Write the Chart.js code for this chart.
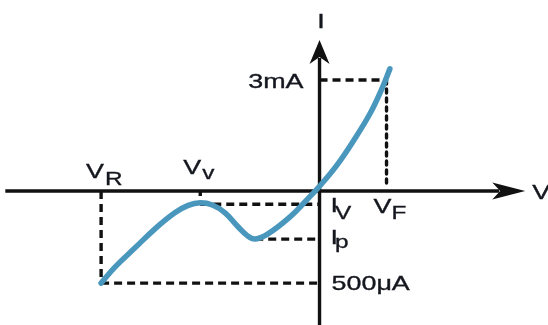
<!DOCTYPE html>
<html>
<head>
<meta charset="utf-8">
<title>I-V curve</title>
<script src="https://cdn.jsdelivr.net/npm/chart.js@4.4.0/dist/chart.umd.min.js"></script>
<style>
  html, body { margin: 0; padding: 0; background: #ffffff; }
  #wrap { width: 548px; height: 325px; }
</style>
</head>
<body>
<div id="wrap"><canvas id="myChart" width="548" height="325"></canvas></div>
<script>
// Curve points (V in arbitrary units, I in mA-like units)
const curveV = [-3.26, -3.05, -2.75, -2.46, -2.16, -1.96, -1.78, -1.60, -1.41, -1.22, -1.07, -0.96, -0.77, -0.44, -0.19, 0.01, 0.26, 0.50, 0.75, 0.93, 1.05];
const curveI = [-2.49, -2.05, -1.53, -1.03, -0.59, -0.39, -0.32, -0.38, -0.59, -0.96, -1.22, -1.30, -1.16, -0.70, -0.24, 0.15, 0.70, 1.34, 2.08, 2.76, 3.30];

// Marked voltages on the V axis
const voltLabels = ['V|R', 'V|v', 'V|F'];
const voltValues = [-3.26, -1.78, 1.0];
const valleyV = -0.96;

// Marked currents on the I axis
const currLabels = ['3mA', 'I|V', 'I|p', '500\u03bcA'];
const currValues = [3.0, -0.36, -1.30, -2.49];

// Visible span of the two axes
const axisV = [-4.69, 3.07];
const axisI = [-3.65, 4.08];

const ctx = document.getElementById('myChart').getContext('2d');
const inkColor = '#15171f';
const curveColor = '#4a97be';
const fontFamily = '"Liberation Sans", Arial, sans-serif';
const stretch = 1.28; // the lettering in the picture is drawn wide

// Helper to build a two point guide line
function guide(x1, y1, x2, y2, dash, cap) {
  return {
    data: [{ x: x1, y: y1 }, { x: x2, y: y2 }],
    borderColor: '#111111',
    borderWidth: 3.4,
    borderDash: dash,
    borderCapStyle: cap || 'butt',
    pointRadius: 0,
    tension: 0
  };
}

const vR = voltValues[0], vV = voltValues[1], vF = voltValues[2];
const i3 = currValues[0], iV = currValues[1], iP = currValues[2], iB = currValues[3];

const datasets = [
  {
    data: curveV.map((v, k) => ({ x: v, y: curveI[k] })),
    borderColor: curveColor,
    borderWidth: 5.5,
    borderCapStyle: 'round',
    borderJoinStyle: 'round',
    pointRadius: 0,
    tension: 0.4
  },
  guide(vR, 0, vR, iB, [8, 5]),          // V_R drop
  guide(vR, iB, 0, iB, [8, 5]),          // 500uA level
  guide(vV, iV, 0, iV, [8, 5]),          // I_V level
  guide(valleyV, iP, 0, iP, [8, 5]),     // I_p level
  guide(0, i3, vF, i3, [8, 5]),          // 3mA level
  guide(vF, i3, vF, 0.15, [4, 5], 'round'), // V_F drop
  guide(vV, 0, vV, curveI[6], [5, 20])   // small tick at V_v
];

// Draw stretched text, with an optional subscript after "|"
function drawLabel(c, label, x, y, opts) {
  const parts = label.split('|');
  c.save();
  c.fillStyle = inkColor;
  c.strokeStyle = inkColor;
  c.lineWidth = 0.35;
  c.textBaseline = 'alphabetic';
  c.font = opts.size + 'px ' + fontFamily;
  let w = c.measureText(parts[0]).width * stretch;
  let left = x;
  if (opts.align === 'right') left = x - w;
  if (opts.align === 'center') left = x - w / 2;
  c.translate(left, y);
  c.scale(stretch, 1);
  c.fillText(parts[0], 0, 0);
  c.strokeText(parts[0], 0, 0);
  if (parts[1]) {
    c.font = opts.subSize + 'px ' + fontFamily;
    const sx = (w + (opts.subDx || 0)) / stretch;
    c.fillText(parts[1], sx, opts.subDy);
    c.strokeText(parts[1], sx, opts.subDy);
  }
  c.restore();
}

// Plugin: axes with arrows under the data, labels on top
const axesPlugin = {
  id: 'axes',
  beforeDatasetsDraw(chart) {
    const c = chart.ctx;
    const xs = chart.scales.x, ys = chart.scales.y;
    const x0 = xs.getPixelForValue(0), y0 = ys.getPixelForValue(0);
    const xa = xs.getPixelForValue(axisV[0]), xb = xs.getPixelForValue(axisV[1]);
    const ya = ys.getPixelForValue(axisI[0]), yb = ys.getPixelForValue(axisI[1]);
    c.save();
    c.strokeStyle = '#111111';
    c.fillStyle = '#111111';
    c.lineWidth = 3.4;
    c.beginPath();
    c.moveTo(xa, y0); c.lineTo(xb - 26, y0);
    c.moveTo(x0, ya); c.lineTo(x0, yb + 18);
    c.stroke();
    // arrow on V axis
    c.beginPath();
    c.moveTo(xb, y0);
    c.lineTo(xb - 33, y0 - 8.5);
    c.lineTo(xb - 25, y0);
    c.lineTo(xb - 33, y0 + 8.5);
    c.closePath();
    c.fill();
    // arrow on I axis
    c.beginPath();
    c.moveTo(x0, yb);
    c.lineTo(x0 - 10, yb + 24);
    c.lineTo(x0, yb + 17);
    c.lineTo(x0 + 10, yb + 24);
    c.closePath();
    c.fill();
    c.restore();
  },
  afterDatasetsDraw(chart) {
    const c = chart.ctx;
    const xs = chart.scales.x, ys = chart.scales.y;
    const x0 = xs.getPixelForValue(0), y0 = ys.getPixelForValue(0);
    const big = 21, small = 19;
    drawLabel(c, 'I', x0 + 1.5, ys.getPixelForValue(axisI[1]) - 12, { size: big, align: 'center' });
    drawLabel(c, 'V', xs.getPixelForValue(axisV[1]) + 7, y0 + 8, { size: big });
    drawLabel(c, voltLabels[0], xs.getPixelForValue(vR) - 15, y0 - 13, { size: big, subSize: small, subDy: 7, subDx: 1 });
    drawLabel(c, voltLabels[1], xs.getPixelForValue(vV) - 17, y0 - 17, { size: big, subSize: small, subDy: 5, subDx: 1 });
    drawLabel(c, voltLabels[2], xs.getPixelForValue(vF) - 13, y0 + 22, { size: big, subSize: small, subDy: 6.5, subDx: 0 });
    drawLabel(c, currLabels[0], x0 - 16, ys.getPixelForValue(i3) + 8, { size: big, align: 'right' });
    drawLabel(c, currLabels[1], x0 + 11, y0 + 21, { size: big, subSize: small, subDy: 7, subDx: -3 });
    drawLabel(c, currLabels[2], x0 + 11, ys.getPixelForValue(iP) + 5, { size: big, subSize: small, subDy: 4, subDx: -3 });
    drawLabel(c, currLabels[3], x0 + 12, ys.getPixelForValue(iB) + 7, { size: big });
  }
};

// Build the chart
const myChart = new Chart(ctx, {
  type: 'line',
  data: { datasets: datasets },
  options: {
    responsive: false,
    animation: false,
    events: [],
    layout: { padding: 0 },
    scales: {
      x: { type: 'linear', min: -4.769, max: 3.410, display: false },
      y: { type: 'linear', min: -3.622, max: 5.162, display: false }
    },
    plugins: {
      legend: { display: false },
      tooltip: { enabled: false }
    }
  },
  plugins: [axesPlugin]
});
</script>
</body>
</html>
